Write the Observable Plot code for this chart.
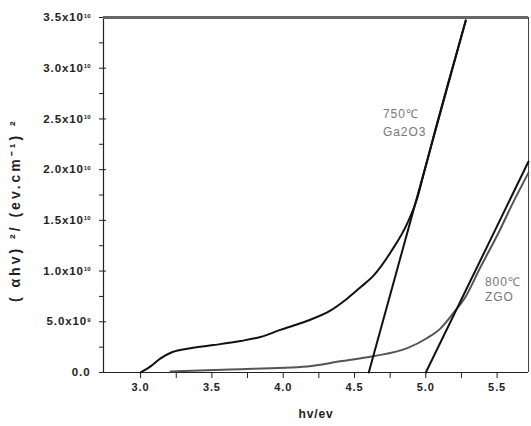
<!DOCTYPE html>
<html>
<head>
<meta charset="utf-8">
<script src="https://cdn.jsdelivr.net/npm/d3@7"></script>
<script src="https://cdn.jsdelivr.net/npm/@observablehq/plot@0.6"></script>
<style>
  html, body { margin: 0; padding: 0; background: #fff; }
  #chart svg { display: block; }
</style>
</head>
<body>
<div id="chart"></div>
<script>
// Ga2O3 (750℃) absorption curve: photon energy (eV) and (αhν)² values
const ga2o3X = [3.00, 3.07, 3.14, 3.22, 3.35, 3.51, 3.70, 3.84, 3.98, 4.17, 4.33, 4.45, 4.55, 4.63, 4.76, 4.87, 4.94, 4.98, 5.07, 5.15, 5.23, 5.28];
const ga2o3Y = [0, 0.06e10, 0.14e10, 0.20e10, 0.24e10, 0.27e10, 0.31e10, 0.35e10, 0.42e10, 0.51e10, 0.61e10, 0.73e10, 0.85e10, 0.95e10, 1.20e10, 1.47e10, 1.72e10, 1.93e10, 2.41e10, 2.82e10, 3.22e10, 3.47e10];
// ZGO (800℃) absorption curve
const zgoX = [3.21, 3.63, 4.17, 4.40, 4.63, 4.87, 5.01, 5.10, 5.19, 5.28, 5.38, 5.50, 5.61, 5.72];
const zgoY = [0.01e10, 0.03e10, 0.06e10, 0.11e10, 0.16e10, 0.24e10, 0.34e10, 0.43e10, 0.58e10, 0.75e10, 1.03e10, 1.35e10, 1.67e10, 1.97e10];
// Linear extrapolation (tangent) lines
const tanGaX = [4.60, 5.28];
const tanGaY = [0, 3.47e10];
const tanZgoX = [5.00, 5.72];
const tanZgoY = [0, 2.08e10];
// Axes
const xDomain = [2.74, 5.72];
const yDomain = [0, 3.5e10];
const xTicks = [3.0, 3.5, 4.0, 4.5, 5.0, 5.5];
const xMinorTicks = [3.25, 3.75, 4.25, 4.75, 5.25];
const yTicks = [0, 0.5e10, 1.0e10, 1.5e10, 2.0e10, 2.5e10, 3.0e10, 3.5e10];
const yTickLabels = ["0.0", "5.0x10^9", "1.0x10^10", "1.5x10^10", "2.0x10^10", "2.5x10^10", "3.0x10^10", "3.5x10^10"];
const yMinorTicks = [0.25e10, 0.75e10, 1.25e10, 1.75e10, 2.25e10, 2.75e10, 3.25e10];
const xTitle = "hv/ev";
const yTitle = "( αhv) ²/ (ev.cm⁻¹) ²";
// Annotations
const labels = [
  {x: 4.70, y: 2.55e10, text: "750℃"},
  {x: 4.70, y: 2.37e10, text: "Ga2O3"},
  {x: 5.415, y: 0.89e10, text: "800℃"},
  {x: 5.415, y: 0.74e10, text: "ZGO"}
];

const zip = (xs, ys) => xs.map((x, i) => ({x, y: ys[i]}));
const ga2o3 = zip(ga2o3X, ga2o3Y);
const zgo = zip(zgoX, zgoY);
const tanGa = zip(tanGaX, tanGaY);
const tanZgo = zip(tanZgoX, tanZgoY);

const chart = Plot.plot({
  width: 531,
  height: 426,
  marginLeft: 103,
  marginRight: 3,
  marginTop: 17,
  marginBottom: 54,
  style: {fontFamily: "Liberation Sans, Arial, sans-serif", background: "#fff", color: "#222"},
  x: {domain: xDomain},
  y: {domain: yDomain},
  marks: [
    Plot.axisX({ticks: xTicks, tickSize: 6, tickPadding: 5, tickFormat: d => d.toFixed(1),
      fontSize: 11, fontWeight: "bold", label: null}),
    Plot.axisX({ticks: xMinorTicks, tickSize: 6, text: null, label: null}),
    Plot.axisY({ticks: yTicks, tickSize: 4, tickPadding: 9, tickFormat: d => yTickLabels[yTicks.indexOf(d)],
      fontSize: 11.5, fontWeight: "bold", label: null}),
    Plot.axisY({ticks: yTicks, tickSize: -3, text: null, label: null}),
    Plot.axisY({ticks: yMinorTicks, tickSize: 4, text: null, label: null}),
    Plot.text([xTitle], {frameAnchor: "bottom", dy: 45, fontSize: 12, fontWeight: "bold", fill: "#222"}),
    Plot.text([yTitle], {x: xDomain[0], y: 1.6e10, rotate: -90, dx: -88, fontSize: 14, fontWeight: "bold", fill: "#222", className: "ytitle"}),
    Plot.ruleX([xDomain[0]], {stroke: "#222", strokeWidth: 1.2}),
    Plot.ruleX([xDomain[1]], {stroke: "#444", strokeWidth: 1}),
    Plot.ruleY([yDomain[0]], {stroke: "#222", strokeWidth: 1.2}),
    Plot.ruleY([yDomain[1]], {stroke: "#666", strokeWidth: 3}),
    Plot.line(zgo, {x: "x", y: "y", stroke: "#555", strokeWidth: 2, curve: "monotone-x"}),
    Plot.line(tanZgo, {x: "x", y: "y", stroke: "#111", strokeWidth: 2}),
    Plot.line(tanGa, {x: "x", y: "y", stroke: "#111", strokeWidth: 2}),
    Plot.line(ga2o3, {x: "x", y: "y", stroke: "#111", strokeWidth: 2, curve: "monotone-x"}),
    Plot.text(labels, {x: "x", y: "y", text: "text", textAnchor: "start", fill: "#777", fontSize: 12})
  ]
});
// letter spacing for the wide scanned font look
d3.select(chart).selectAll("text").style("letter-spacing", "0.9px");
d3.select(chart).selectAll(".ytitle text").style("letter-spacing", "3px");
// turn "^" exponents into superscript tspans
d3.select(chart).selectAll("text").each(function() {
  const t = this.textContent;
  if (t.includes("^") && this.children.length === 0) {
    const [base, exp] = t.split("^");
    const sel = d3.select(this);
    sel.text(base);
    sel.append("tspan").attr("dy", "-0.6em").attr("font-size", "6px").style("letter-spacing", "0").text(exp);
  }
});
document.getElementById("chart").appendChild(chart);
</script>
</body>
</html>
